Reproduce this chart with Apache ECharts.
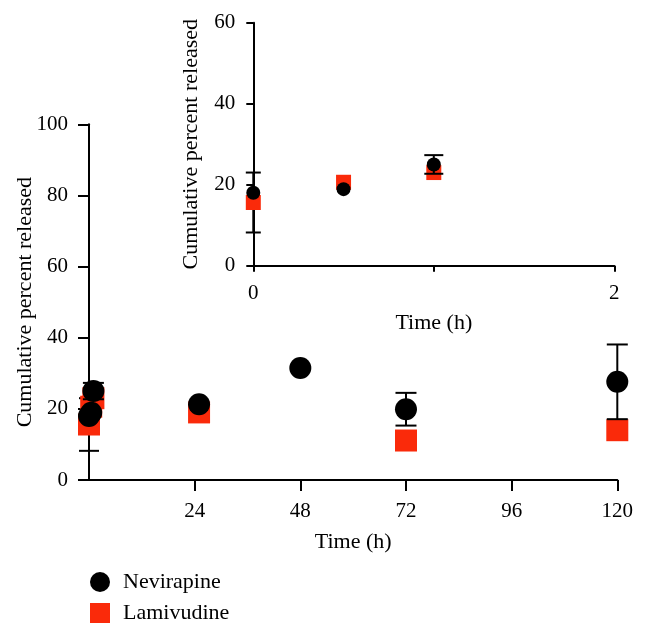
<!DOCTYPE html>
<html>
<head>
<meta charset="utf-8">
<script src="https://cdn.jsdelivr.net/npm/echarts@6/dist/echarts.min.js"></script>
<style>
html,body{margin:0;padding:0;background:#fff;}
#c{width:646px;height:635px;}
</style>
</head>
<body>
<div id="c"></div>
<script>
// ---- data ----
var times   = [0, 0.5, 1, 25, 48, 72, 120];
var nevMean = [18.0, 18.9, 25.0, 21.3, 31.5, 19.9, 27.6];
var nevSD   = [0, 0, 2.3, 0, 0, 4.6, 10.5];
var lamMean = [15.6, 20.6, 23.0, 19.0, null, 11.1, 14.0];
var lamSD   = [7.4, 0, 0, 0, 0, 0, 0];
var mainXTicks = [24, 48, 72, 96, 120];
var insetXLabels = [0, 2];
var insetMaxT = 2;

var RED = '#fa2a0a';
var FONT = "'Liberation Serif','Times New Roman',serif";

function pts(means, maxT) {
  var out = [];
  for (var i = 0; i < times.length; i++) {
    if (means[i] == null) continue;
    if (maxT != null && times[i] > maxT) continue;
    out.push([times[i], means[i]]);
  }
  return out;
}
function errs(means, sds, maxT) {
  var out = [];
  for (var i = 0; i < times.length; i++) {
    if (means[i] == null || !sds[i]) continue;
    if (maxT != null && times[i] > maxT) continue;
    out.push([times[i], means[i] - sds[i], means[i] + sds[i]]);
  }
  return out;
}
function errRender(cap) {
  return function (params, api) {
    var x = api.value(0), lo = api.value(1), hi = api.value(2);
    var p1 = api.coord([x, lo]), p2 = api.coord([x, hi]);
    var st = {stroke: '#000', lineWidth: 2};
    return {type: 'group', children: [
      {type: 'line', shape: {x1: p1[0], y1: p1[1], x2: p2[0], y2: p2[1]}, style: st},
      {type: 'line', shape: {x1: p1[0] - cap / 2, y1: p1[1], x2: p1[0] + cap / 2, y2: p1[1]}, style: st},
      {type: 'line', shape: {x1: p2[0] - cap / 2, y1: p2[1], x2: p2[0] + cap / 2, y2: p2[1]}, style: st}
    ]};
  };
}

var axisLine = {lineStyle: {color: '#000', width: 2}};
var nameStyle = {fontFamily: FONT, fontSize: 22, color: '#000'};
var labelBase = {fontFamily: FONT, fontSize: 21, color: '#000'};
var chart = echarts.init(document.getElementById('c'), null, {renderer: 'canvas'});
chart.setOption({
  animation: false,
  backgroundColor: '#fff',
  textStyle: {fontFamily: FONT, color: '#000'},
  legend: {
    orient: 'vertical', left: 85, top: 566, itemWidth: 20, itemHeight: 20, itemGap: 9,
    textStyle: {fontFamily: FONT, fontSize: 22, color: '#000', padding: [16, 0, 0, 8]},
    data: [{name: 'Nevirapine', icon: 'circle'}, {name: 'Lamivudine', icon: 'rect'}]
  },
  grid: [
    {left: 89, top: 124.3, width: 528.3, height: 355.7, outerBoundsMode: 'none', containLabel: false},
    {left: 253.3, top: 22.7, width: 361, height: 243, outerBoundsMode: 'none', containLabel: false}
  ],
  xAxis: [
    {gridIndex: 0, type: 'value', min: 0, max: 120, interval: 24,
     name: 'Time (h)', nameLocation: 'middle', nameGap: 51, nameMoveOverlap: false,
     nameTextStyle: nameStyle,
     axisLine: axisLine, splitLine: {show: false},
     axisTick: {length: 11, lineStyle: {color: '#000', width: 2}, customValues: mainXTicks},
     axisLabel: Object.assign({margin: 21, customValues: mainXTicks}, labelBase)},
    {gridIndex: 1, type: 'value', min: 0, max: 2, interval: 1,
     name: 'Time (h)', nameLocation: 'middle', nameGap: 47, nameMoveOverlap: false,
     nameTextStyle: nameStyle,
     axisLine: axisLine, splitLine: {show: false},
     axisTick: {length: 6, lineStyle: {color: '#000', width: 2}},
     axisLabel: Object.assign({margin: 17, customValues: insetXLabels}, labelBase)}
  ],
  yAxis: [
    {gridIndex: 0, type: 'value', min: 0, max: 100, interval: 20,
     name: 'Cumulative percent released', nameLocation: 'middle', nameGap: 53, nameMoveOverlap: false,
     nameTextStyle: nameStyle,
     axisLine: {show: true, lineStyle: {color: '#000', width: 2}}, splitLine: {show: false},
     axisTick: {show: true, length: 11, lineStyle: {color: '#000', width: 2}},
     axisLabel: Object.assign({margin: 21}, labelBase)},
    {gridIndex: 1, type: 'value', min: 0, max: 60, interval: 20,
     name: 'Cumulative percent released', nameLocation: 'middle', nameGap: 51, nameMoveOverlap: false,
     nameTextStyle: nameStyle,
     axisLine: {show: true, lineStyle: {color: '#000', width: 2}}, splitLine: {show: false},
     axisTick: {show: true, length: 7, lineStyle: {color: '#000', width: 2}},
     axisLabel: Object.assign({margin: 18}, labelBase)}
  ],
  series: [
    {name: 'Lamivudine SD', type: 'custom', xAxisIndex: 0, yAxisIndex: 0, z: 1,
     renderItem: errRender(20), itemStyle: {color: '#000'}, data: errs(lamMean, lamSD)},
    {name: 'Lamivudine', type: 'scatter', xAxisIndex: 0, yAxisIndex: 0, symbol: 'rect', symbolSize: 22,
     itemStyle: {color: RED, opacity: 1}, z: 2, data: pts(lamMean)},
    {name: 'Nevirapine SD', type: 'custom', xAxisIndex: 0, yAxisIndex: 0, z: 3,
     renderItem: errRender(21), itemStyle: {color: '#000'}, data: errs(nevMean, nevSD)},
    {name: 'Nevirapine', type: 'scatter', xAxisIndex: 0, yAxisIndex: 0, symbol: 'circle', symbolSize: 22,
     itemStyle: {color: '#000', opacity: 1}, z: 4, data: pts(nevMean)},

    {name: 'Lamivudine SD i', type: 'custom', xAxisIndex: 1, yAxisIndex: 1, z: 1,
     renderItem: errRender(15), itemStyle: {color: '#000'}, data: errs(lamMean, lamSD, insetMaxT)},
    {name: 'Lamivudine', type: 'scatter', xAxisIndex: 1, yAxisIndex: 1, symbol: 'rect', symbolSize: 15,
     itemStyle: {color: RED, opacity: 1}, z: 2, data: pts(lamMean, insetMaxT)},
    {name: 'Nevirapine SD i', type: 'custom', xAxisIndex: 1, yAxisIndex: 1, z: 3,
     renderItem: errRender(19), itemStyle: {color: '#000'}, data: errs(nevMean, nevSD, insetMaxT)},
    {name: 'Nevirapine', type: 'scatter', xAxisIndex: 1, yAxisIndex: 1, symbol: 'circle', symbolSize: 14,
     itemStyle: {color: '#000', opacity: 1}, z: 4, data: pts(nevMean, insetMaxT)}
  ]
});
</script>
</body>
</html>
